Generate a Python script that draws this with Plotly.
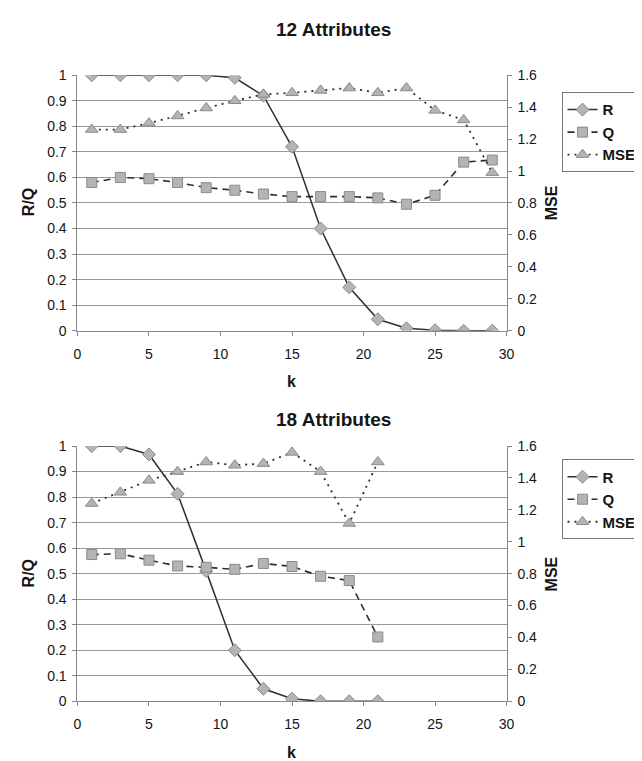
import plotly.graph_objects as go

# ---- data ----
k12 = [1, 3, 5, 7, 9, 11, 13, 15, 17, 19, 21, 23, 25, 27, 29]
r12 = [1.0, 1.0, 1.0, 1.0, 1.0, 0.99, 0.92, 0.72, 0.40, 0.17, 0.045, 0.01, 0.002, 0.0, 0.0]
q12 = [0.58, 0.60, 0.595, 0.58, 0.56, 0.55, 0.535, 0.525, 0.525, 0.525, 0.52, 0.495, 0.53, 0.66, 0.668]
mse12 = [1.26, 1.26, 1.30, 1.345, 1.395, 1.44, 1.48, 1.49, 1.505, 1.52, 1.49, 1.52, 1.38, 1.32, 0.99]

k18 = [1, 3, 5, 7, 9, 11, 13, 15, 17, 19, 21]
r18 = [1.0, 1.0, 0.967, 0.813, 0.51, 0.20, 0.049, 0.01, 0.0, 0.0, 0.0]
q18 = [0.575, 0.578, 0.553, 0.53, 0.525, 0.517, 0.540, 0.528, 0.49, 0.473, 0.252]
mse18 = [1.24, 1.31, 1.385, 1.44, 1.50, 1.48, 1.49, 1.56, 1.44, 1.115, 1.50]

titles = ["12 Attributes", "18 Attributes"]
series_names = ["R", "Q", "MSE"]
x_ticks = [0, 5, 10, 15, 20, 25, 30]

W, H = 642, 761
FONT = "Liberation Sans, Arial, sans-serif"
LINE = "#2e2e2e"
MFILL = "#b4b4b4"
MEDGE = "#8a8a8a"
GRID = "#999999"
AXIS = "#888888"
TXT = "#151515"

fig = go.Figure()

panels = [
    dict(k=k12, r=r12, q=q12, m=mse12, xa="x", ya="y", ya2="y2", legend="legend"),
    dict(k=k18, r=r18, q=q18, m=mse18, xa="x2", ya="y3", ya2="y4", legend="legend2"),
]

for p in panels:
    fig.add_trace(go.Scatter(
        x=p["k"], y=p["r"], name=series_names[0], mode="lines+markers",
        xaxis=p["xa"], yaxis=p["ya"], legend=p["legend"],
        line=dict(color=LINE, width=1.5),
        marker=dict(symbol="diamond", size=10, color=MFILL, line=dict(color=MEDGE, width=1)),
    ))
    fig.add_trace(go.Scatter(
        x=p["k"], y=p["q"], name=series_names[1], mode="lines+markers",
        xaxis=p["xa"], yaxis=p["ya"], legend=p["legend"],
        line=dict(color=LINE, width=1.6, dash="7px,5px"),
        marker=dict(symbol="square", size=10, color=MFILL, line=dict(color=MEDGE, width=1)),
    ))
    fig.add_trace(go.Scatter(
        x=p["k"], y=p["m"], name=series_names[2], mode="lines+markers",
        xaxis=p["xa"], yaxis=p["ya2"], legend=p["legend"],
        line=dict(color=LINE, width=1.8, dash="2px,5px"),
        marker=dict(symbol="triangle-up", size=11, color=MFILL, line=dict(color=MEDGE, width=1)),
    ))

x_dom = [66.7 / W, 504.0 / W]
top_dom = [1 - 321.5 / H, 1 - 60.5 / H]
bot_dom = [1 - 700.0 / H, 1 - 439.3 / H]

tickfont = dict(family=FONT, size=14, color=TXT)

def xaxis_cfg(anchor):
    return dict(domain=x_dom, anchor=anchor, range=[0, 30], tickvals=x_ticks,
                showgrid=False, zeroline=False, showline=True, linecolor=AXIS, linewidth=1,
                ticks="outside", ticklen=4, tickcolor=AXIS, tickfont=tickfont,
                ticklabelstandoff=6, fixedrange=True)

def ylcfg(dom, anchor):
    return dict(domain=dom, anchor=anchor, range=[0, 1], dtick=0.1, showgrid=True,
                gridcolor=GRID, gridwidth=1, zeroline=False, showline=True, linecolor=AXIS,
                ticks="outside", ticklen=4, tickcolor=AXIS, tickfont=tickfont,
                ticklabelstandoff=3, fixedrange=True)

def yrcfg(over, anchor):
    return dict(overlaying=over, anchor=anchor, side="right", range=[0, 1.6], dtick=0.2,
                showgrid=False, zeroline=False, showline=True, linecolor=AXIS,
                ticks="outside", ticklen=4, tickcolor=AXIS, tickfont=tickfont,
                ticklabelstandoff=3, fixedrange=True)

legend_cfg = lambda ytop: dict(
    x=560 / W, xanchor="left", y=1 - ytop / H, yanchor="top",
    bgcolor="white", bordercolor="#777777", borderwidth=1,
    font=dict(family=FONT, size=15, color=TXT, weight="bold"),
    itemwidth=30, tracegroupgap=0,
)

ann = []
for title, ty in zip(titles, [14, 412]):
    ann.append(dict(text="<b>%s</b>" % title, x=328 / W, y=1 - ty / H, xref="paper", yref="paper",
                    showarrow=False, xanchor="center", yanchor="middle",
                    font=dict(family=FONT, size=19, color=TXT)))
for cy, ky in zip([190.5, 569.7], [373, 752]):
    ann.append(dict(text="<b>R/Q</b>", x=17 / W, y=1 - cy / H, xref="paper", yref="paper",
                    showarrow=False, textangle=-90, xanchor="center", yanchor="middle",
                    font=dict(family=FONT, size=16, color=TXT)))
    ann.append(dict(text="<b>MSE</b>", x=550 / W, y=1 - cy / H, xref="paper", yref="paper",
                    showarrow=False, textangle=-90, xanchor="center", yanchor="middle",
                    font=dict(family=FONT, size=16, color=TXT)))
    ann.append(dict(text="<b>k</b>", x=285 / W, y=1 - ky / H, xref="paper", yref="paper",
                    showarrow=False, xanchor="center", yanchor="middle",
                    font=dict(family=FONT, size=16, color=TXT)))

fig.update_layout(
    width=W, height=H,
    margin=dict(l=0, r=0, t=0, b=0),
    paper_bgcolor="white", plot_bgcolor="white",
    font=dict(family=FONT, size=14, color=TXT),
    xaxis=xaxis_cfg("y"),
    yaxis=ylcfg(top_dom, "x"),
    yaxis2=yrcfg("y", "x"),
    xaxis2=xaxis_cfg("y3"),
    yaxis3=ylcfg(bot_dom, "x2"),
    yaxis4=yrcfg("y3", "x2"),
    legend=legend_cfg(78),
    legend2=legend_cfg(453),
    annotations=ann,
    showlegend=True,
)

fig.write_html("out.html")
